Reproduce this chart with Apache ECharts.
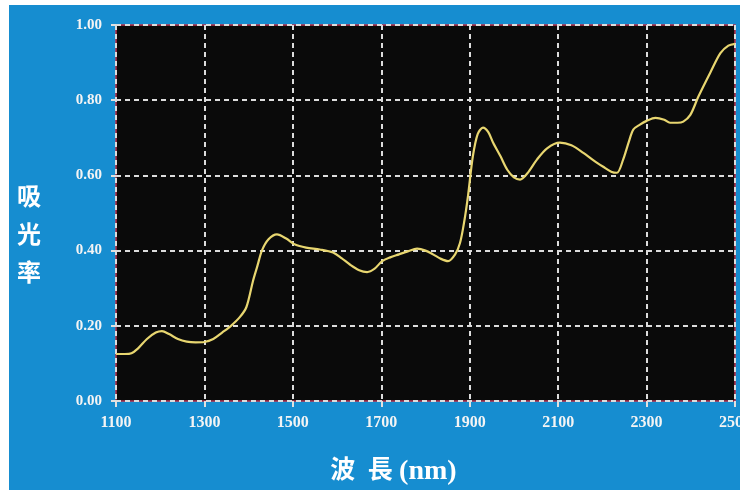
<!DOCTYPE html>
<html>
<head>
<meta charset="utf-8">
<script src="https://cdn.jsdelivr.net/npm/echarts@6/dist/echarts.min.js"></script>
<style>
html,body{margin:0;padding:0;background:#ffffff;}
#chart{width:740px;height:490px;}
</style>
</head>
<body>
<div id="chart"></div>
<script>
// Wavelength (nm) and absorbance
const wavelengths = [1100,1120,1135,1150,1170,1190,1204,1220,1240,1260,1280,1300,1320,1340,1360,1380,1395,1410,1420,1430,1445,1464,1485,1505,1530,1561,1591,1610,1629,1650,1668,1685,1702,1720,1740,1760,1781,1800,1817,1835,1851,1867,1878,1888,1896,1907,1918,1930,1942,1953,1970,1985,2000,2014,2030,2052,2075,2104,2130,2157,2180,2202,2220,2233,2247,2260,2270,2285,2300,2320,2340,2353,2370,2383,2399,2417,2444,2467,2485,2500];
const absorbance = [0.125,0.125,0.127,0.140,0.165,0.182,0.186,0.178,0.165,0.158,0.156,0.157,0.165,0.182,0.200,0.223,0.250,0.320,0.360,0.400,0.430,0.443,0.432,0.416,0.408,0.403,0.395,0.380,0.363,0.348,0.343,0.352,0.372,0.382,0.390,0.398,0.405,0.400,0.390,0.378,0.372,0.390,0.420,0.480,0.544,0.650,0.710,0.727,0.715,0.687,0.650,0.615,0.595,0.589,0.605,0.642,0.672,0.687,0.680,0.660,0.640,0.623,0.610,0.607,0.642,0.690,0.722,0.735,0.745,0.753,0.748,0.740,0.740,0.743,0.761,0.809,0.873,0.925,0.945,0.950];
const xStart = 1100, xEnd = 2500, xStep = 200;
const yTicks = [0, 0.2, 0.4, 0.6, 0.8, 1.0];
const xTitle = '波  長 {u|(nm)}';
const yTitle = '吸\n光\n率';

const chart = echarts.init(document.getElementById('chart'), null, {renderer: 'canvas'});
const serif = '"Liberation Serif", "Noto Sans CJK TC", serif';
const gridStyle = {color: '#dcdcdc', width: 2, type: [5, 4]};
chart.setOption({
  backgroundColor: '#168dd0',
  animation: false,
  graphic: [
    {type: 'rect', left: 0, top: 0, shape: {width: 9, height: 490}, style: {fill: '#ffffff'}, silent: true},
    {type: 'rect', left: 0, top: 0, shape: {width: 740, height: 5}, style: {fill: '#ffffff'}, silent: true}
  ],
  grid: {left: 116, right: 5, top: 25, bottom: 89, containLabel: false, outerBoundsMode: 'none',
    show: true, backgroundColor: '#0a0a0a', borderColor: '#b8324e', borderWidth: 1.5},
  xAxis: {
    type: 'value',
    min: 0, max: xEnd - xStart, interval: xStep,
    name: xTitle,
    nameLocation: 'middle',
    nameGap: 57,
    nameTextStyle: {color: '#ffffff', fontSize: 25, fontWeight: 'bold', fontFamily: serif, padding: [0, 64, 0, 0],
      rich: {u: {color: '#ffffff', fontSize: 28, fontWeight: 'bold', fontFamily: serif}}},
    axisLine: {show: false},
    axisTick: {show: true, length: 6, lineStyle: {color: '#e0e0e0', width: 2}},
    axisLabel: {color: '#f4f4f4', fontSize: 16, fontWeight: 'bold', fontFamily: serif, margin: 14,
      hideOverlap: false, showMaxLabel: true, showMinLabel: true,
      formatter: v => String(v + xStart)},
    splitLine: {show: true, lineStyle: gridStyle}
  },
  yAxis: {
    type: 'value',
    min: yTicks[0], max: yTicks[yTicks.length - 1], interval: yTicks[1] - yTicks[0],
    axisLine: {show: false},
    axisTick: {show: true, length: 5, lineStyle: {color: '#e0e0e0', width: 2}},
    axisLabel: {color: '#f4f4f4', fontSize: 15, fontWeight: 'bold', fontFamily: serif, margin: 14,
      formatter: v => v.toFixed(2)},
    splitLine: {show: true, lineStyle: gridStyle}
  },
  title: {
    text: yTitle,
    left: 12, top: 175,
    textStyle: {color: '#ffffff', fontSize: 24, fontWeight: 'bold', fontFamily: serif, lineHeight: 38}
  },
  series: [{
    type: 'line',
    data: wavelengths.map((w, i) => [w - xStart, absorbance[i]]),
    showSymbol: false,
    smooth: 0.3,
    lineStyle: {color: '#e8d670', width: 2.2},
    z: 5
  }]
});
</script>
</body>
</html>
